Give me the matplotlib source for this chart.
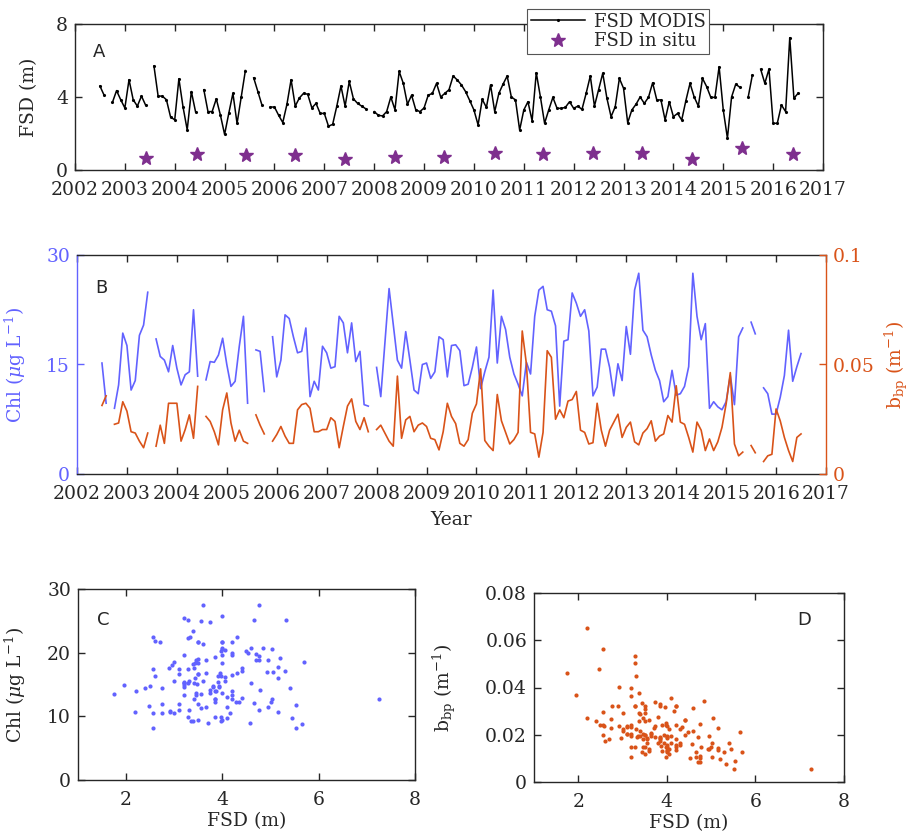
import numpy as np
import matplotlib
matplotlib.use('Agg')
import matplotlib.pyplot as plt

nan = np.nan

# monthly series, Jul 2002 (index 0) .. Jul 2016 (index 168)
fsd_modis = [
    4.6, 4.1, nan, 3.7, 4.35, 3.85, 3.4, 4.95, 3.85, 3.5, 4.05, 3.55,
    nan, 5.7, 4.05, 4.05, 3.85, 2.9, 2.75, 5.0, 3.45, 2.2, 4.3, 3.2,
    nan, 4.4, 3.2, 3.2, 3.9, 3.0, 1.95, 3.1, 4.2, 2.55, 4.0, 5.45,
    nan, 5.05, 4.3, 3.55, nan, 3.45, 3.45, 3.0, 2.6, 3.6, 4.95, 3.5,
    3.95, 4.2, 4.15, 3.4, 3.65, 3.1, 3.1, 2.4, 2.5, 3.5, 4.6, 3.5,
    4.85, 3.9, 3.65, 3.5, 3.35, nan, 3.2, 3.0, 2.96, 3.2, 4.0, 3.3,
    5.4, 4.75, 3.6, 4.1, 3.3, 3.2, 3.4, 4.1, 4.2, 4.75, 4.0, 4.2,
    4.4, 5.15, 4.93, 4.66, 4.29, 3.8, 3.29, 2.47, 3.87, 3.43, 4.66, 3.2,
    4.2, 4.7, 5.15, 4.0, 3.84, 2.19, 3.29, 3.74, 2.7, 5.33, 4.0, 2.56,
    3.29, 3.98, 3.38, 3.38, 3.43, 3.74, 3.38, 3.5, 3.32, 4.2, 5.15, 3.5,
    4.4, 5.3, 3.93, 2.92, 3.47, 5.02, 4.48, 2.59, 3.29, 3.6, 4.0, 3.65,
    3.98, 4.78, 3.84, 3.84, 2.74, 3.74, 2.92, 3.1, 2.74, 3.8, 4.75, 4.0,
    3.5, 5.02, 4.57, 3.98, 3.98, 5.66, 3.29, 1.74, 4.0, 4.7, 4.53, nan,
    4.0, 5.2, nan, 5.52, 4.75, 5.53, 2.56, 2.56, 3.56, 3.2, 7.25, 3.93, 4.2,
]

chl = [
    15.2, 9.7, nan, 9.0, 12.2, 19.3, 17.6, 11.5, 12.8, 19.0, 20.4, 24.9,
    nan, 18.5, 16.1, 15.6, 14.0, 17.6, 14.5, 12.2, 13.6, 14.0, 22.5, 13.4,
    nan, 12.9, 15.4, 15.3, 16.3, 18.6, 15.0, 12.0, 12.7, 17.5, 21.6, 9.7,
    nan, 17.0, 16.8, 11.3, nan, 18.8, 13.3, 15.6, 21.8, 21.3, 18.8, 16.6,
    16.8, 20.0, 10.6, 12.7, 11.5, 17.5, 16.6, 14.5, 14.7, 21.6, 20.7, 16.6,
    20.7, 15.4, 16.8, 9.5, 9.3, nan, 14.6, 10.6, 18.0, 25.4, 20.5, 15.6,
    14.5, 19.5, 15.6, 11.5, 11.0, 15.0, 15.2, 13.1, 14.0, 18.8, 18.4, 13.3,
    17.6, 17.7, 16.9, 12.1, 12.3, 14.6, 17.4, 11.7, 14.0, 16.0, 25.2, 15.2,
    21.6, 19.8, 16.0, 13.7, 12.3, 10.7, 15.3, 13.7, 21.6, 25.2, 25.7, 22.5,
    22.3, 20.3, 9.3, 18.2, 18.4, 24.8, 23.4, 21.6, 22.5, 19.6, 10.7, 11.9,
    17.1, 17.1, 14.6, 10.7, 15.1, 12.8, 20.2, 16.4, 25.2, 27.5, 19.7, 18.8,
    16.3, 14.2, 12.8, 9.9, 10.6, 14.2, 10.8, 11.0, 12.0, 14.7, 27.5, 21.6,
    18.4, 20.6, 9.0, 9.9, 9.2, 8.8, 9.9, 13.5, 9.5, 18.8, 20.0, nan,
    20.8, 19.2, nan, 11.8, 11.0, 8.2, 8.2, 10.5, 13.5, 19.7, 12.7, 14.7, 16.5,
]

bbp = [
    0.0313, 0.0357, nan, 0.0227, 0.0233, 0.0330, 0.0287, 0.0193, 0.0187, 0.0150, 0.0120, 0.0187,
    nan, 0.0127, 0.0223, 0.0140, 0.0323, 0.0323, 0.0323, 0.0150, 0.0203, 0.0270, 0.0163, 0.0400,
    nan, 0.0263, 0.0240, 0.0193, 0.0133, 0.0293, 0.0370, 0.0233, 0.0150, 0.0200, 0.0150, 0.0140,
    nan, 0.0270, 0.0223, 0.0183, nan, 0.0150, 0.0180, 0.0217, 0.0173, 0.0140, 0.0140, 0.0293,
    0.0317, 0.0323, 0.0300, 0.0193, 0.0193, 0.0203, 0.0203, 0.0257, 0.0240, 0.0120, 0.0217, 0.0310,
    0.0343, 0.0240, 0.0203, 0.0257, 0.0193, nan, 0.0203, 0.0223, 0.0187, 0.0150, 0.0127, 0.0447,
    0.0163, 0.0247, 0.0263, 0.0193, 0.0223, 0.0233, 0.0217, 0.0163, 0.0157, 0.0110, 0.0193, 0.0323,
    0.0263, 0.0230, 0.0140, 0.0127, 0.0157, 0.0277, 0.0320, 0.0480, 0.0153, 0.0127, 0.0107, 0.0363,
    0.0243, 0.0190, 0.0137, 0.0157, 0.0190, 0.0653, 0.0503, 0.0190, 0.0183, 0.0077, 0.0190, 0.0563,
    0.0533, 0.0250, 0.0293, 0.0257, 0.0333, 0.0340, 0.0377, 0.0200, 0.0190, 0.0137, 0.0143, 0.0323,
    0.0200, 0.0127, 0.0200, 0.0237, 0.0273, 0.0167, 0.0213, 0.0237, 0.0147, 0.0133, 0.0187, 0.0207,
    0.0243, 0.0150, 0.0173, 0.0183, 0.0267, 0.0237, 0.0403, 0.0237, 0.0227, 0.0167, 0.0100, 0.0237,
    0.0200, 0.0107, 0.0160, 0.0107, 0.0147, 0.0213, 0.0320, 0.0463, 0.0137, 0.0083, 0.0100, nan,
    0.0130, 0.0097, nan, 0.0057, 0.0083, 0.0090, 0.0297, 0.0243, 0.0167, 0.0107, 0.0057, 0.0167, 0.0183,
]

insitu_dates = [2003.43, 2004.45, 2005.43, 2006.41, 2007.42, 2008.42, 2009.40,
                2010.42, 2011.39, 2012.39, 2013.37, 2014.37, 2015.37, 2016.39]
insitu_fsd = [0.65, 0.88, 0.80, 0.80, 0.60, 0.70, 0.70,
              0.92, 0.86, 0.92, 0.92, 0.60, 1.18, 0.86]

fsd_modis = np.array(fsd_modis)
chl = np.array(chl)
bbp = np.array(bbp)
t = 2002.5 + np.arange(len(chl)) / 12.0

year_ticks = list(range(2002, 2018))

dark = '#262626'
blue = '#6262FF'
orange = '#D95319'
purple = '#7E2F8E'

plt.rcParams['font.family'] = 'DejaVu Serif'
plt.rcParams['mathtext.fontset'] = 'dejavuserif'
plt.rcParams['font.size'] = 13.5
plt.rcParams['axes.edgecolor'] = dark
plt.rcParams['axes.linewidth'] = 1.0
plt.rcParams['xtick.color'] = dark
plt.rcParams['ytick.color'] = dark
plt.rcParams['text.color'] = dark
plt.rcParams['axes.labelcolor'] = dark

W, H = 914, 838
fig = plt.figure(figsize=(W / 100, H / 100), dpi=100)


def box(l, top, r, b):
    return [l / W, 1 - b / H, (r - l) / W, (b - top) / H]


def ticks_in(ax, **kw):
    ax.tick_params(direction='in', length=5, width=1.0, **kw)
    ax.tick_params(axis='x', pad=8)
    ax.tick_params(axis='y', pad=5)


# ---- A ----
axA = fig.add_axes(box(75, 24, 823, 170))
axA.plot(t, fsd_modis, '-', color='k', lw=1.1, marker='.', ms=2.5, label='FSD MODIS')
axA.plot(insitu_dates, insitu_fsd, ls='none', marker='*', ms=10, color=purple,
         mec=purple, label='FSD in situ')
axA.set_xlim(2002, 2017)
axA.set_ylim(0, 8)
axA.set_xticks(year_ticks)
axA.set_yticks([0, 4, 8])
ticks_in(axA, top=True, right=True)
axA.set_ylabel('FSD (m)')
axA.yaxis.set_label_coords(-0.05, 0.5)
leg = axA.legend(loc='upper left', bbox_to_anchor=(527 / W, 1 - 9 / H),
                 bbox_transform=fig.transFigure, fancybox=False, framealpha=1,
                 edgecolor='#555555', borderpad=0.2, labelspacing=0.1,
                 handlelength=3.0, handletextpad=0.5, borderaxespad=0,
                 fontsize=13)
leg.get_frame().set_linewidth(0.8)
fig.text(93 / W, 1 - 57 / H, 'A', family='DejaVu Sans', fontsize=13)

# ---- B ----
axB = fig.add_axes(box(77, 255, 826, 474))
axB.plot(t, chl, color=blue, lw=1.2)
axB.set_xlim(2002, 2017)
axB.set_ylim(0, 30)
axB.set_xticks(year_ticks)
axB.set_yticks([0, 15, 30])
ticks_in(axB, top=True)
axB.tick_params(axis='y', colors=blue)
axB.spines['left'].set_color(blue)
axB.spines['right'].set_visible(False)
axB.set_ylabel(r'Chl ($\mu$g L$^{-1}$)', color=blue)
axB.yaxis.set_label_coords(-0.066, 0.5)
axB.set_xlabel('Year')
axB.xaxis.set_label_coords(0.5, -0.17)

axB2 = axB.twinx()
axB2.plot(t, bbp, color=orange, lw=1.2)
axB2.set_ylim(0, 0.1)
axB2.set_yticks([0, 0.05, 0.1])
axB2.set_yticklabels(['0', '0.05', '0.1'])
ticks_in(axB2)
axB2.tick_params(axis='y', colors=orange)
axB2.spines['right'].set_color(orange)
axB2.spines['left'].set_visible(False)
axB2.spines['top'].set_visible(False)
axB2.spines['bottom'].set_visible(False)
axB2.set_ylabel(r'b$_{\rm bp}$ (m$^{-1}$)', color=orange)
axB2.yaxis.set_label_coords(1.076, 0.5)
fig.text(95 / W, 1 - 293 / H, 'B', family='DejaVu Sans', fontsize=13)

both = ~np.isnan(fsd_modis) & ~np.isnan(chl)

# ---- C ----
axC = fig.add_axes(box(78, 589, 415, 780))
axC.plot(fsd_modis[both], chl[both], 'o', color=blue, ms=3, mew=0)
axC.set_xlim(1, 8)
axC.set_ylim(0, 30)
axC.set_xticks([2, 4, 6, 8])
axC.set_yticks([0, 10, 20, 30])
ticks_in(axC, top=True, right=True)
axC.set_xlabel('FSD (m)', labelpad=2)
axC.set_ylabel(r'Chl ($\mu$g L$^{-1}$)')
axC.yaxis.set_label_coords(-0.148, 0.5)
fig.text(97 / W, 1 - 625 / H, 'C', family='DejaVu Sans', fontsize=13)

# ---- D ----
axD = fig.add_axes(box(534, 593, 844, 782))
axD.plot(fsd_modis[both], bbp[both], 'o', color=orange, ms=3, mew=0)
axD.set_xlim(1, 8)
axD.set_ylim(0, 0.08)
axD.set_xticks([2, 4, 6, 8])
axD.set_yticks([0, 0.02, 0.04, 0.06, 0.08])
axD.set_yticklabels(['0', '0.02', '0.04', '0.06', '0.08'])
ticks_in(axD, top=True, right=True)
axD.set_xlabel('FSD (m)', labelpad=2)
axD.set_ylabel(r'b$_{\rm bp}$ (m$^{-1}$)')
axD.yaxis.set_label_coords(-0.245, 0.5)
fig.text(797 / W, 1 - 625 / H, 'D', family='DejaVu Sans', fontsize=13)

fig.savefig('out.png', dpi=100)
